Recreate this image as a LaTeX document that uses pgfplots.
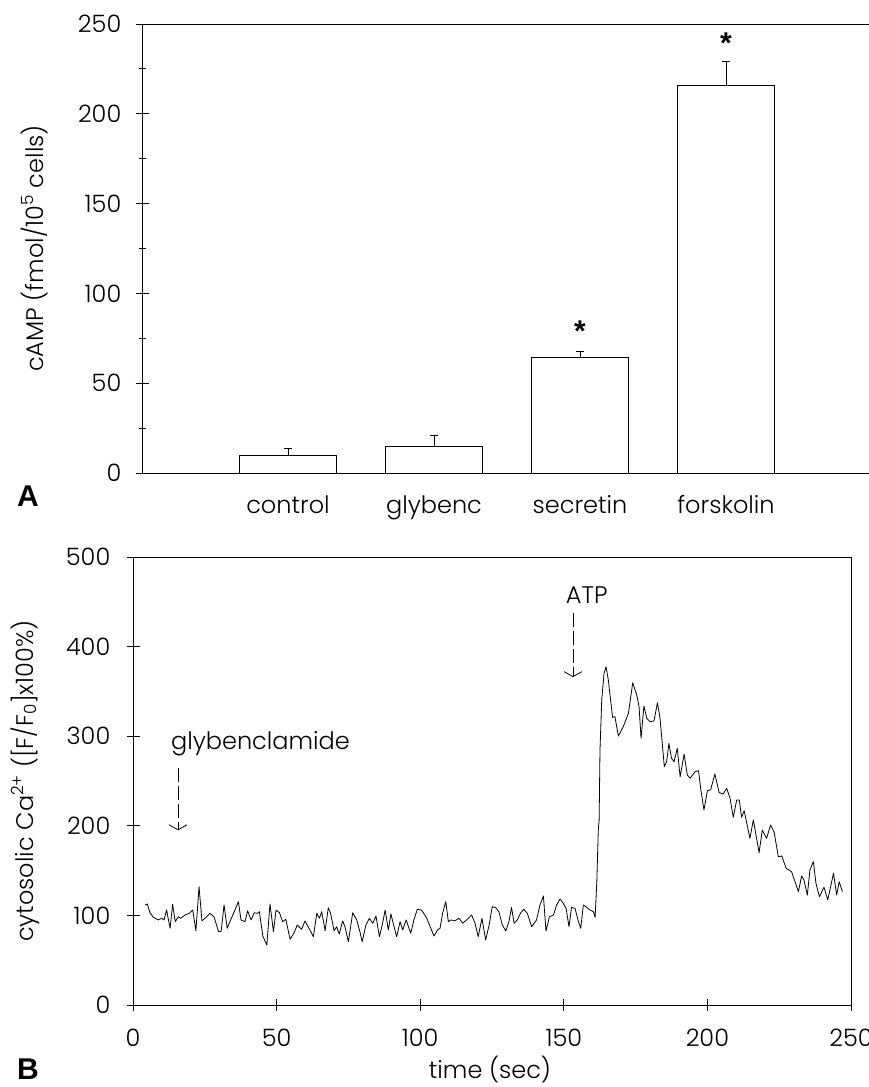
\documentclass[border=0pt]{standalone}
\usepackage{fontspec}
\setmainfont{Poppins}[UprightFont={* Light}]
\newfontfamily\panelfont{Liberation Sans}
\usepackage{pgfplots}
\pgfplotsset{compat=1.18}
\usetikzlibrary{arrows.meta}

\newcommand\lbl{\fontsize{24}{28}\selectfont}
\newcommand\biglbl{\fontsize{30}{34}\selectfont}

\pgfplotstableread{
t v
4.2 111.6
5.0 112.7
5.9 103
7.1 97.9
8.8 94.9
10.0 96.8
10.8 94.9
11.7 106
12.9 85.6
13.8 112.4
14.7 93
15.8 98.5
16.6 96.8
18.1 100.4
19.6 102.3
20.8 106
21.9 82.9
23.0 132
24.0 94
25.1 96.8
26.8 102.3
28.2 98.5
29.8 81.8
30.7 82.2
31.7 111.6
32.8 85.6
34.0 94.9
35.5 106
36.7 115.3
37.6 94.9
39.0 93
39.9 105.3
41.1 94.9
42.2 103
43.3 102.3
44.0 104.1
45.2 77
46.6 67
47.7 112.7
48.9 81.8
49.8 106
51.0 103
52.1 93
53.2 95.6
54.7 73.3
56.1 80.7
57.2 89.3
58.7 84.5
59.9 93.8
61.6 83.7
62.8 76.2
64.0 102.3
64.9 96.8
65.7 104.1
66.9 82.9
68.0 108.6
68.8 102.3
70.0 82.9
70.9 87.4
71.8 79.2
73.0 93.8
73.8 87.4
75.0 70.7
76.5 103
77.9 94.9
79.0 81.8
79.8 70.7
81.1 89.3
82.3 96.8
83.5 91.2
84.6 99.3
85.8 76.2
86.9 91.2
87.8 106
88.9 83.7
89.8 101.6
90.6 91.2
91.8 76.2
93.0 93
93.9 83.7
95.1 94.9
96.7 80
97.8 94.9
99.0 106.8
100.5 106
102.3 96.8
103.7 85.6
104.8 77
106.0 83.7
106.9 85.6
107.8 102.3
108.9 115.3
109.8 93
110.6 94.9
112.1 94
113.5 96.8
114.8 91.2
116.4 95.6
117.9 100.4
119.1 91.2
120.2 76.2
121.5 96.8
122.8 72.5
124.0 89.3
125.1 109.7
126.3 108.6
127.4 104.1
128.6 89.3
129.8 82.6
130.9 93
131.8 109
132.7 91.2
133.8 94.9
135.0 103
136.1 106.8
137.3 102.3
138.0 95.6
138.8 87.4
140.5 94.9
141.7 111.6
142.9 121.7
143.8 82.6
145.0 98.5
146.4 100.4
147.5 111.6
148.7 118.3
149.8 113.5
150.8 107.9
151.8 87.4
152.7 109
153.9 107.9
155.1 93
155.9 85.6
156.8 111.6
158.0 109
159.1 106
160.3 104.1
160.9 97.9
161.5 137.6
162.0 195
162.3 206
162.6 284.6
163.2 340
164.0 370
164.7 377.6
165.5 362.7
166.3 340
167.0 321
167.8 321.8
169.0 300.2
170.7 310.6
172.5 325.5
174.0 359.7
175.4 346
176.2 333
176.9 297.6
177.9 333.7
178.9 320
180.0 316.2
181.4 317
182.6 337.4
183.5 320
185.0 266
185.8 271.5
186.6 292
187.5 275.3
188.4 271.5
189.5 286.5
190.5 254.8
191.9 280
193.0 256.7
194.0 253
195.7 260.4
196.9 261.5
197.7 240.7
198.8 217.6
200.0 239.2
201.1 240
202.6 257.8
204.1 237
205.5 235.5
206.7 241.8
207.9 230.7
209.0 209.5
210.2 228.8
211.1 228.8
211.9 209.5
212.8 216.9
214.8 186
216.0 206.5
218.0 170
219.1 195.3
220.6 186
222.0 200.9
223.2 193.4
224.7 165.5
225.9 166.3
227.4 152.6
229.3 148.8
231.7 126.5
232.8 144
233.6 139.5
234.8 122.8
235.7 150.7
236.9 160
237.8 135.8
239.0 120.9
240.6 131.4
241.9 117.2
242.9 132
243.9 147
245.0 122.8
245.9 137.6
247.0 126.5
}\trace

\begin{document}
\begin{tikzpicture}[font=\lbl]
\pgfplotsset{
  every axis/.append style={
    scale only axis,
    anchor=south west,
    axis line style={line width=0.9pt},
    tick style={line width=0.9pt, black},
    tick align=center,
    major tick length=13pt,
    minor tick length=7pt,
    xtick pos=bottom, ytick pos=left,
    /pgf/number format/assume math mode=true,
    tick label style={font=\lbl},
    yticklabel style={anchor=east, inner sep=0pt},
    xticklabel style={anchor=base, inner sep=0pt},
  }
}

% panel A: cAMP bars
\begin{axis}[
  at={(142pt,614pt)},
  width=730pt, height=449pt,
  xmin=0, xmax=5, ymin=0, ymax=250,
  ytick={0,50,...,250},
  minor y tick num=1,
  xtick={1,2,3,4},
  xticklabels={control,glybenc,secretin,forskolin},
  major x tick style={draw=none},
  yticklabel style={xshift=-14pt},
  xticklabel style={yshift=-34pt},
]
\addplot[ybar, bar width=97pt, draw=black, fill=white, line width=0.9pt,
  error bars/.cd, y dir=plus, y explicit,
  error bar style={line width=0.9pt},
  error mark options={rotate=90, line width=0.9pt, mark size=4pt}]
  table[x=x, y=y, y error=e] {
x y e
1 10 3.4
2 15 6
3 64.4 3.5
4 215.6 13.8
};
\node[anchor=north, inner sep=0pt, font=\panelfont\bfseries\biglbl] at (axis cs:3,85) {*};
\node[anchor=north, inner sep=0pt, font=\panelfont\bfseries\biglbl] at (axis cs:4,245) {*};
\end{axis}

% panel B: cytosolic calcium trace
\begin{axis}[
  at={(133pt,82pt)},
  width=718pt, height=448pt,
  xmin=0, xmax=250, ymin=0, ymax=500,
  xtick={0,50,...,250},
  ytick={0,100,...,500},
  yticklabel style={xshift=-16pt},
  xticklabel style={yshift=-35pt},
]
\addplot[black, line width=0.8pt, line join=round] table[x=t, y=v] {\trace};
\node[anchor=west, inner sep=0pt] at (axis cs:13.2,292) {glybenclamide};
\draw[line width=0.8pt, dash pattern=on 14pt off 4pt,
  -{Straight Barb[length=5pt, width=18pt, line width=0.8pt]}]
  (axis cs:15.7,264) -- (axis cs:15.7,195);
\node[anchor=center, inner sep=0pt] at (axis cs:158,457) {ATP};
\draw[line width=0.8pt, dash pattern=on 14pt off 4pt,
  -{Straight Barb[length=5pt, width=18pt, line width=0.8pt]}]
  (axis cs:153.2,437) -- (axis cs:153.2,366);
\end{axis}

% axis titles and panel letters
\node[rotate=90, anchor=base, inner sep=0pt] at (43pt,838.5pt)
  {cAMP (fmol/10\textsuperscript{5} cells)};
\node[rotate=90, anchor=base, inner sep=0pt] at (33pt,306pt)
  {cytosolic Ca\textsuperscript{2+} ([F/F\textsubscript{0}]x100\%)};
\node[anchor=base, inner sep=0pt] at (490pt,9pt) {time (sec)};
\node[anchor=base west, inner sep=0pt, font=\panelfont\bfseries\biglbl] at (17pt,580pt) {A};
\node[anchor=base west, inner sep=0pt, font=\panelfont\bfseries\biglbl] at (17pt,8pt) {B};

\pgfresetboundingbox
\path[use as bounding box] (0pt,0pt) rectangle (869pt,1087pt);
\end{tikzpicture}
\end{document}
